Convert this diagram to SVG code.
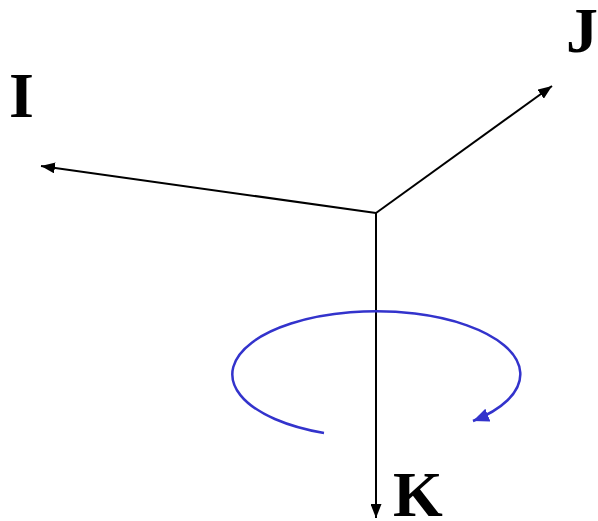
<svg xmlns="http://www.w3.org/2000/svg" width="598" height="521" viewBox="0 0 598 521">
<style>
.ax{stroke:#000;stroke-width:2;fill:none}
.lbl{font-family:"Liberation Serif",serif;font-weight:bold;font-size:64px;fill:#000}
.rot{stroke:#3333cc;stroke-width:2.5;fill:none}
</style>
<defs>
<marker id="ah" viewBox="0 0 14 11" refX="14" refY="5.5" markerWidth="14" markerHeight="11" markerUnits="userSpaceOnUse" orient="auto">
<path d="M0,0 L14,5.5 L0,11 Z" fill="#000"/>
</marker>
<marker id="bh" viewBox="0 0 14 12" refX="14" refY="6" markerWidth="16" markerHeight="14" markerUnits="userSpaceOnUse" orient="auto">
<path d="M0,0 L14,6 L0,12 Z" fill="#3333cc"/>
</marker>
</defs>
<rect width="598" height="521" fill="#fff"/>
<g id="connectors">
<line class="ax" x1="376" y1="213" x2="41" y2="166" marker-end="url(#ah)"/>
<line class="ax" x1="376" y1="213" x2="552" y2="86" marker-end="url(#ah)"/>
<line class="ax" x1="376" y1="213" x2="376" y2="518" marker-end="url(#ah)"/>
<path class="rot" d="M324,433 A144,63 0 1 1 473,421" marker-end="url(#bh)"/>
</g>
<g id="I"><text class="lbl" x="9" y="117">I</text></g>
<g id="J"><text class="lbl" x="566" y="52">J</text></g>
<g id="K"><text class="lbl" x="393" y="516">K</text></g>
</svg>
